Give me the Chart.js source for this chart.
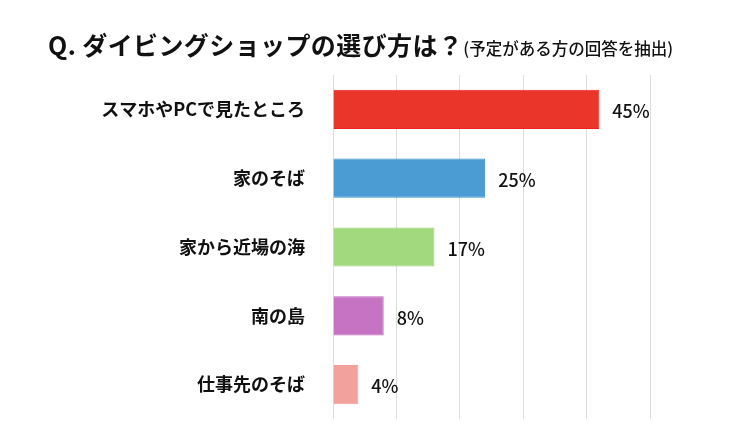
<!DOCTYPE html>
<html lang="ja">
<head>
<meta charset="utf-8">
<script src="https://cdn.jsdelivr.net/npm/chart.js@4"></script>
<style>
  html, body { margin: 0; padding: 0; background: #fff; }
  #wrap { position: relative; width: 740px; height: 437px; }
  #title {
    position: absolute; left: 48px; top: 26px; white-space: nowrap;
    font-family: "Noto Sans CJK JP", "Noto Sans", sans-serif; color: #111;
  }
  #title .main { font-size: 25px; font-weight: bold; letter-spacing: 0.4px; }
  #title .sub { font-size: 16.5px; font-weight: 500; }
</style>
</head>
<body>
<div id="wrap">
  <div id="title"><span class="main">Q. ダイビングショップの選び方は？</span><span class="sub">(予定がある方の回答を抽出)</span></div>
  <canvas id="chart" width="740" height="437"></canvas>
</div>
<script>
const categories = ['スマホやPCで見たところ', '家のそば', '家から近場の海', '南の島', '仕事先のそば'];
// bar lengths (0-50 scale)
const barValues = [42, 24, 16, 8, 4];
// labels as printed next to each bar
const valueLabels = ['45%', '25%', '17%', '8%', '4%'];
const fillColors = ['#E9352A', '#4A9CD2', '#A2D87E', '#C673C4', '#F2A19D'];
const edgeColors = ['#F01E1E', '#3B8FD0', '#97D575', '#BF66BD', '#F2A19D'];
const axisTicks = [0, 10, 20, 30, 40, 50];

const barLabels = {
    id: 'barLabels',
    afterDatasetsDraw(chart) {
        const ctx = chart.ctx;
        const meta = chart.getDatasetMeta(0);
        ctx.save();
        ctx.font = '500 18px "Noto Sans CJK JP", "Noto Sans", sans-serif';
        ctx.fillStyle = '#111';
        ctx.textAlign = 'left';
        ctx.textBaseline = 'middle';
        meta.data.forEach((bar, i) => {
            ctx.fillText(valueLabels[i], bar.x + 13, bar.y + 2);
        });
        ctx.restore();
    }
};

const chart = new Chart(document.getElementById('chart'), {
    type: 'bar',
    data: {
        labels: categories,
        datasets: [{
            data: barValues,
            backgroundColor: fillColors,
            borderColor: edgeColors,
            borderWidth: 1,
            categoryPercentage: 1,
            barPercentage: 0.57
        }]
    },
    options: {
        indexAxis: 'y',
        responsive: false,
        animation: false,
        devicePixelRatio: 1,
        layout: { padding: { top: 75, right: 90, bottom: 18, left: 0 } },
        plugins: {
            legend: { display: false },
            tooltip: { enabled: false }
        },
        scales: {
            x: {
                min: axisTicks[0],
                max: axisTicks[axisTicks.length - 1],
                ticks: { display: false, stepSize: 10 },
                grid: { color: '#DDDDDD', lineWidth: 1, drawTicks: false },
                border: { display: false },
                afterFit(scale) {
                    scale.height = 0;
                    scale.paddingLeft = 0;
                    scale.paddingRight = 0;
                }
            },
            y: {
                grid: { display: false },
                border: { display: false },
                afterFit(scale) {
                    scale.width = 333;
                    scale.paddingTop = 0;
                    scale.paddingBottom = 0;
                },
                ticks: {
                    padding: 20,
                    color: '#111',
                    font: { family: '"Noto Sans CJK JP", "Noto Sans", sans-serif', size: 18, weight: 'bold' }
                }
            }
        }
    },
    plugins: [barLabels]
});
</script>
</body>
</html>
